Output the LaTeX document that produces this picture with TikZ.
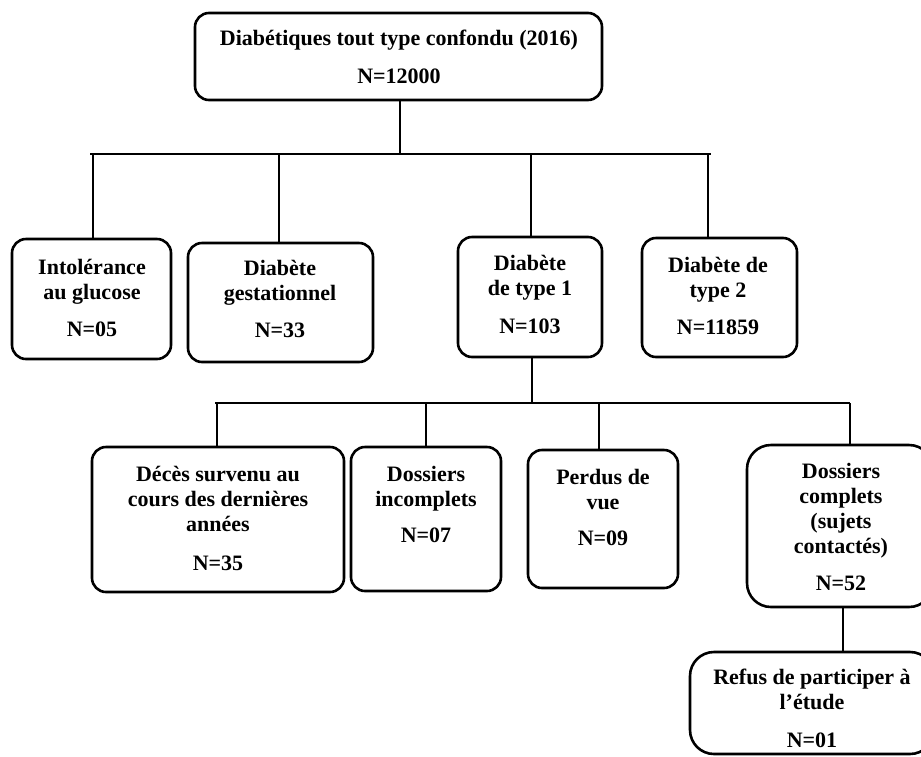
\documentclass[tikz,border=0pt]{standalone}
\usepackage{fontspec}
\setmainfont{Liberation Serif}
\usetikzlibrary{fit}
\tikzset{
  box/.style={draw, line width=2.6pt, rounded corners=14pt, inner sep=0pt, fill=none},
  bigbox/.style={box, rounded corners=24pt},
  txt/.style={align=center, inner sep=0pt, font=\bfseries\fontsize{22}{25}\selectfont},
  link/.style={line width=2pt}
}
\begin{document}
\begin{tikzpicture}[x=1pt,y=-1pt]
\useasboundingbox (0,0) rectangle (921,756);
\clip (0,0) rectangle (921,756);
% boxes
\node[box, fit={(195,13) (602,100)}] (top) {};
\node[box, fit={(12,239) (171,359)}] (intol) {};
\node[box, fit={(188,243) (373,362)}] (gest) {};
\node[box, fit={(458,237) (602,357)}] (tone) {};
\node[box, fit={(642,238) (797,357)}] (ttwo) {};
\node[box, fit={(92,447) (344,592)}] (deces) {};
\node[box, fit={(351,447) (501,591)}] (incompl) {};
\node[box, fit={(528,450) (678,588)}] (perdus) {};
\node[bigbox, fit={(747,445) (933,607)}] (compl) {};
\node[bigbox, fit={(690,652) (934,754)}] (refus) {};
% texts
\node[txt] (topT) at (399,57) {Diabétiques tout type confondu (2016)\\[13pt]N=12000};
\node[txt] (intolT) at (92,297.5) {Intolérance\\au glucose\\[12pt]N=05};
\node[txt] (gestT) at (280,299) {Diabète\\gestationnel\\[12pt]N=33};
\node[txt] (toneT) at (530,294.5) {Diabète\\de type 1\\[13pt]N=103};
\node[txt] (ttwoT) at (718,296) {Diabète de\\type 2\\[12pt]N=11859};
\node[txt] (decesT) at (218,518) {Décès survenu au\\cours des dernières\\années\\[14pt]N=35};
\node[txt] (incomplT) at (426,504.5) {Dossiers\\incomplets\\[11pt]N=07};
\node[txt] (perdusT) at (603,507.5) {Perdus de\\vue\\[11pt]N=09};
\node[txt] (complT) at (841,527) {Dossiers\\complets\\(sujets\\contactés)\\[12pt]N=52};
\node[txt] (refusT) at (812,708.5) {Refus de participer à\\l’étude\\[13pt]N=01};
% first level connectors
\coordinate (barA) at (90,154);
\coordinate (barB) at (711,154);
\draw[link] (top.south -| 400,0) -- (400,154);
\draw[link] (barA) -- (barB);
\draw[link] (93,154) -- (93,0 |- intol.north);
\draw[link] (279,154) -- (279,0 |- gest.north);
\draw[link] (531,154) -- (531,0 |- tone.north);
\draw[link] (708,154) -- (708,0 |- ttwo.north);
% second level connectors
\coordinate (barC) at (215,403);
\coordinate (barD) at (850,403);
\draw[link] (532,0 |- tone.south) -- (532,403);
\draw[link] (barC) -- (barD);
\draw[link] (217,403) -- (217,0 |- deces.north);
\draw[link] (426,403) -- (426,0 |- incompl.north);
\draw[link] (599,403) -- (599,0 |- perdus.north);
\draw[link] (850,403) -- (850,0 |- compl.north);
% third level
\draw[link] (843,0 |- compl.south) -- (843,0 |- refus.north);
\end{tikzpicture}
\end{document}
